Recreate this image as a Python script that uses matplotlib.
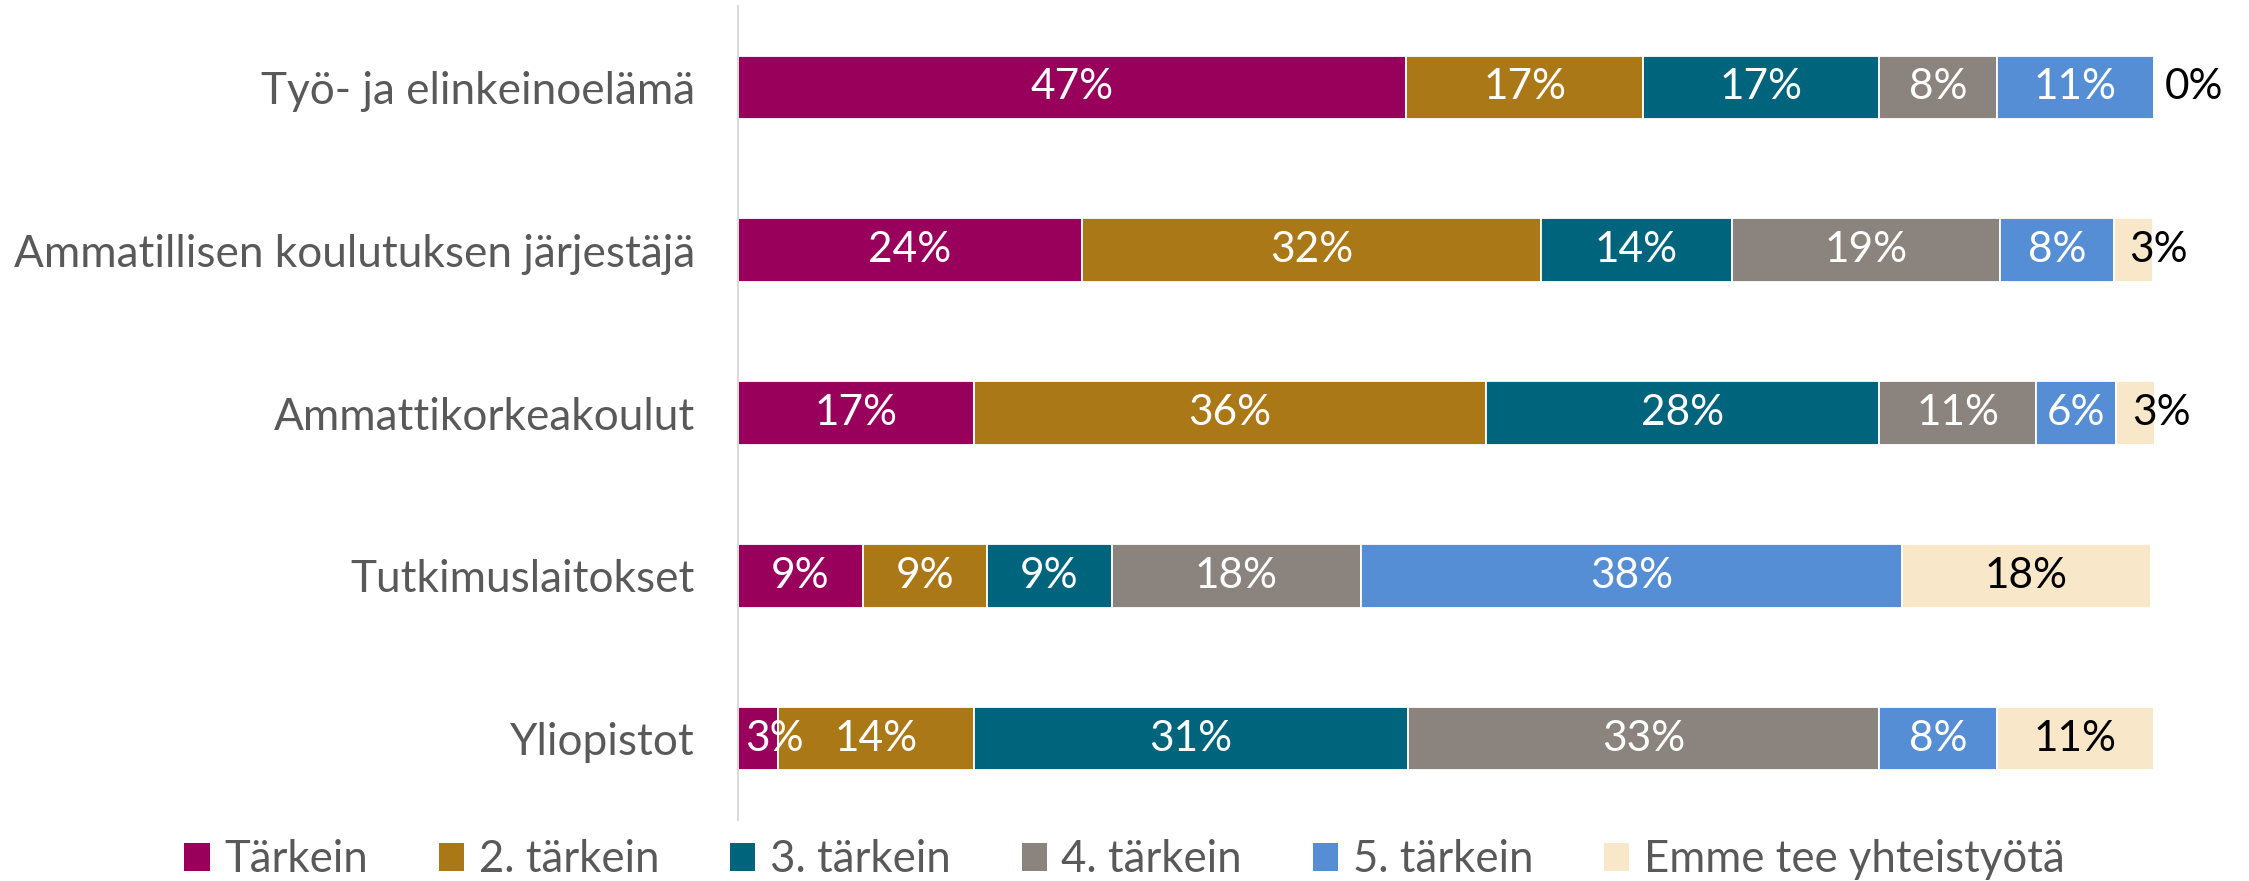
import matplotlib
matplotlib.use("Agg")
import matplotlib.pyplot as plt
from matplotlib.patches import Patch

# ---- data ----
categories = ["Työ- ja elinkeinoelämä",
              "Ammatillisen koulutuksen järjestäjä",
              "Ammattikorkeakoulut",
              "Tutkimuslaitokset",
              "Yliopistot"]
series_names = ["Tärkein", "2. tärkein", "3. tärkein", "4. tärkein", "5. tärkein",
                "Emme tee yhteistyötä"]
tarkein   = [47.2, 24.3, 16.7, 8.8, 2.8]
tarkein2  = [16.7, 32.4, 36.1, 8.8, 13.9]
tarkein3  = [16.7, 13.5, 27.8, 8.8, 30.6]
tarkein4  = [8.3, 18.9, 11.1, 17.6, 33.3]
tarkein5  = [11.1, 8.1, 5.6, 38.2, 8.3]
emme      = [0.0, 2.7, 2.8, 17.6, 11.1]
series_values = [tarkein, tarkein2, tarkein3, tarkein4, tarkein5, emme]

colors = ["#99005C", "#AB7817", "#00657C", "#8B837D", "#558ED5", "#F8E7C9"]
label_colors = ["white", "white", "white", "white", "white", "black"]

FONT = ["Lato", "DejaVu Sans"]
plt.rcParams["font.family"] = FONT

W, H, DPI = 2249, 881, 100
fig = plt.figure(figsize=(W / DPI, H / DPI), dpi=DPI)
ax_left, ax_right, ax_top, ax_bottom = 738, 2154, 6, 820
ax = fig.add_axes([ax_left / W, 1 - ax_bottom / H,
                   (ax_right - ax_left) / W, (ax_bottom - ax_top) / H])

LBL = 30.5
ypos = list(range(len(categories)))
lefts = [0.0] * len(categories)
for si, vals in enumerate(series_values):
    ax.barh(ypos, vals, left=lefts, height=0.39, color=colors[si],
            edgecolor="white", linewidth=1.3, label=series_names[si], zorder=2)
    for i, v in enumerate(vals):
        txt = f"{v:.0f}%"
        start = lefts[i]
        end = lefts[i] + v
        if v == 0:
            ax.annotate(txt, (end, i), xytext=(8, 0), textcoords="offset points",
                        ha="left", va="center", color="black", fontsize=LBL,
                        annotation_clip=False)
        elif v < 5 and si == len(series_values) - 1:
            ax.annotate(txt, (end, i), xytext=(4.5, 0), textcoords="offset points",
                        ha="center", va="center", color="black", fontsize=LBL,
                        annotation_clip=False)
        elif v < 5 and si == 0:
            ax.annotate(txt, (start, i), xytext=(5, 0), textcoords="offset points",
                        ha="left", va="center", color="white", fontsize=LBL,
                        annotation_clip=False)
        else:
            ax.text((start + end) / 2, i, txt, ha="center", va="center",
                    color=label_colors[si], fontsize=LBL)
    lefts = [l + v for l, v in zip(lefts, vals)]

ax.set_xlim(0, 100)
ax.set_ylim(len(categories) - 0.5, -0.5)
ax.set_yticks(ypos)
ax.set_yticklabels(categories, fontsize=31.8, color="#595959")
ax.tick_params(axis="y", length=0, pad=31)
ax.set_xticks([])
for s in ["top", "right", "bottom"]:
    ax.spines[s].set_visible(False)
ax.spines["left"].set_color("#D9D9D9")
ax.spines["left"].set_linewidth(1.4)
ax.spines["left"].set_zorder(3)

handles = [Patch(facecolor=c, edgecolor="none") for c in colors]
leg = fig.legend(handles, series_names, loc="center", bbox_to_anchor=(0.5, 0.024),
                 ncol=6, frameon=False, fontsize=31.5, handlelength=0.58,
                 handleheight=0.58, handletextpad=0.33, columnspacing=1.62,
                 borderaxespad=0, borderpad=0)
for t in leg.get_texts():
    t.set_color("#595959")

fig.savefig("out.png", dpi=DPI)
